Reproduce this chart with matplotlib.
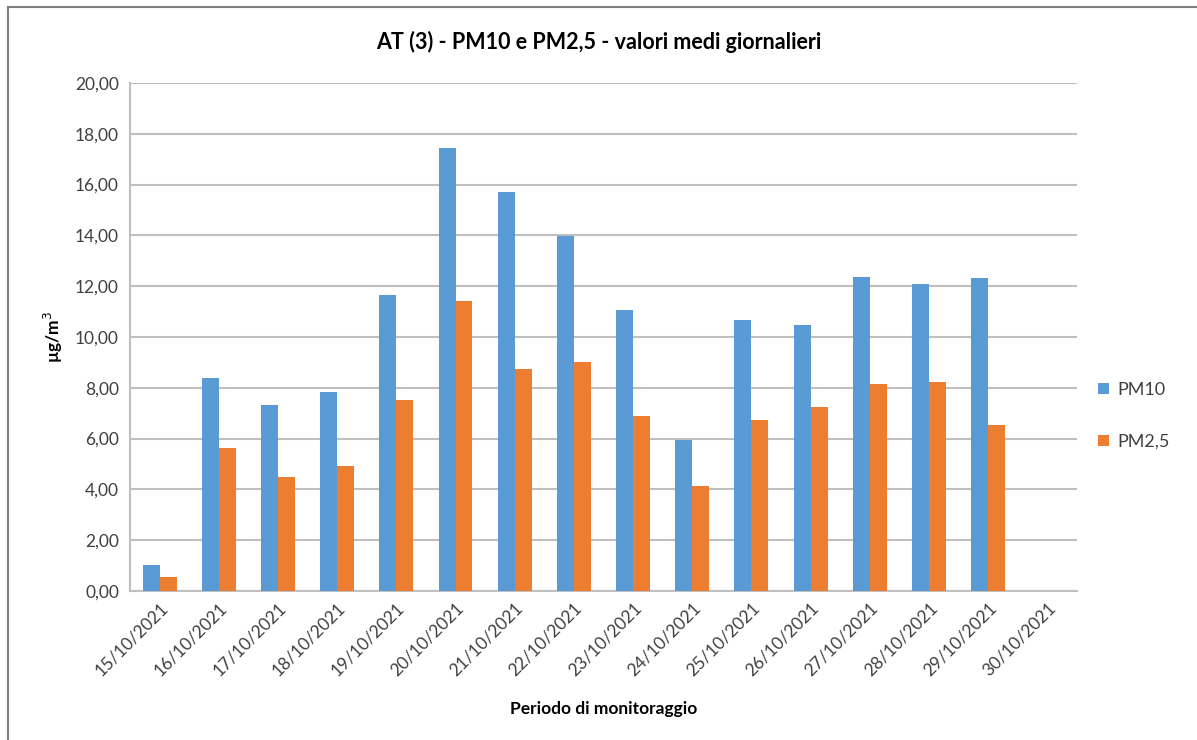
import numpy as np
import matplotlib.pyplot as plt
from matplotlib.lines import Line2D

plt.rcParams['font.family'] = ['Lato', 'DejaVu Sans']

dates = ['15/10/2021', '16/10/2021', '17/10/2021', '18/10/2021', '19/10/2021',
         '20/10/2021', '21/10/2021', '22/10/2021', '23/10/2021', '24/10/2021',
         '25/10/2021', '26/10/2021', '27/10/2021', '28/10/2021', '29/10/2021',
         '30/10/2021']
pm10 = [1.01, 8.38, 7.34, 7.83, 11.64, 17.43, 15.72, 13.97, 11.05, 5.96,
        10.68, 10.46, 12.37, 12.09, 12.32, np.nan]
pm25 = [0.55, 5.62, 4.50, 4.93, 7.53, 11.42, 8.75, 9.03, 6.89, 4.12,
        6.75, 7.25, 8.16, 8.24, 6.53, np.nan]

blue = '#5b9bd5'
orange = '#ed7d31'
grid_col = '#bfbfbf'
text_col = '#404040'

fig = plt.figure(figsize=(11.97, 7.40), dpi=100)
ax = fig.add_axes([0.1086, 0.2014, 0.7911, 0.6865])

x = np.arange(len(dates))
w = 0.287
ax.bar(x - w / 2, pm10, w, color=blue, label='PM10', zorder=3)
ax.bar(x + w / 2, pm25, w, color=orange, label='PM2,5', zorder=3)

ax.set_xlim(-0.5, len(dates) - 0.5)
ax.set_ylim(0, 20)
ax.set_yticks(np.arange(0, 21, 2))
ax.set_yticklabels([f'{v:.2f}'.replace('.', ',') for v in np.arange(0, 21, 2)],
                   fontsize=12.5, color=text_col)
ax.set_xticks(x)
ax.set_xticklabels(dates, rotation=45, ha='right', rotation_mode='anchor',
                   fontsize=12.5, color=text_col)
ax.tick_params(axis='both', length=0, pad=8)
ax.tick_params(axis='x', pad=6)

ax.grid(axis='y', color=grid_col, linewidth=1.5, zorder=0)
for s in ['top', 'right']:
    ax.spines[s].set_visible(False)
for s in ['left', 'bottom']:
    ax.spines[s].set_color(grid_col)
    ax.spines[s].set_linewidth(1.5)

ax.set_xlabel('Periodo di monitoraggio', fontsize=12.5, fontweight='bold', labelpad=16)
ax.set_ylabel('µg/m$^3$', fontsize=12.5, fontweight='bold')
# kept just left of the tick labels so the two do not collide
ax.yaxis.set_label_coords(-0.069, 0.5)

fig.text(0.5, 0.943, 'AT (3) - PM10 e PM2,5 - valori medi giornalieri',
         ha='center', va='center', fontsize=15.5, fontweight='bold')

ax.legend(loc='center left', bbox_to_anchor=(1.005, 0.345), frameon=False,
          fontsize=13, handlelength=0.6, handleheight=0.6, handletextpad=0.5,
          labelspacing=2.0, labelcolor=text_col)

# outer frame (left and top edges visible)
fig.add_artist(Line2D([8 / 1197, 8 / 1197], [0, 1 - 7 / 740],
                      transform=fig.transFigure, color='#7f7f7f', lw=1.5))
fig.add_artist(Line2D([8 / 1197, 1], [1 - 7 / 740, 1 - 7 / 740],
                      transform=fig.transFigure, color='#7f7f7f', lw=1.5))

fig.savefig('out.png', dpi=100)
